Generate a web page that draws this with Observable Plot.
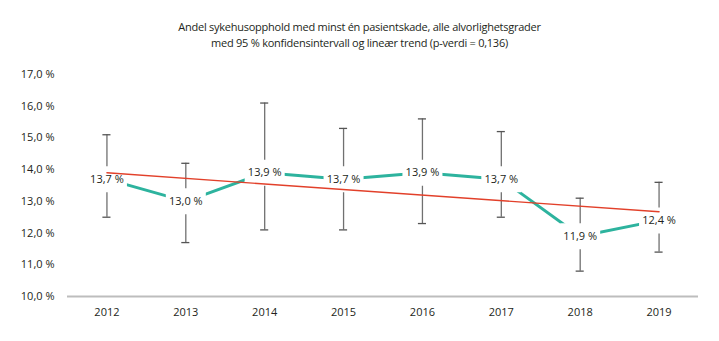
<!DOCTYPE html>
<html>
<head>
<meta charset="utf-8">
<script src="https://cdn.jsdelivr.net/npm/d3@7"></script>
<script src="https://cdn.jsdelivr.net/npm/@observablehq/plot@0.6"></script>
<style>
  html, body { margin: 0; padding: 0; background: #fff; }
  #title { width: 719px; height: 60px; box-sizing: border-box; padding-top: 19px;
    text-align: center; font-family: "Open Sans", sans-serif; font-size: 11px; line-height: 16px;
    color: #231f20; letter-spacing: -0.25px; }
  #chart svg { display: block; }
</style>
</head>
<body>
<div id="title">Andel sykehusopphold med minst én pasientskade, alle alvorlighetsgrader<br>med 95 % konfidensintervall og lineær trend (p-verdi = 0,136)</div>
<div id="chart"></div>
<script>
const years = ["2012", "2013", "2014", "2015", "2016", "2017", "2018", "2019"];
const values = [13.7, 13.0, 13.9, 13.7, 13.9, 13.7, 11.9, 12.4];
const lower = [12.5, 11.7, 12.1, 12.1, 12.3, 12.5, 10.8, 11.4];
const upper = [15.1, 14.2, 16.1, 15.3, 15.6, 15.2, 13.1, 13.6];
const trendYears = ["2012", "2019"];
const trendValues = [13.9, 12.67];
const yTicks = [10, 11, 12, 13, 14, 15, 16, 17];

const data = years.map((year, i) => ({year, value: values[i], lo: lower[i], hi: upper[i]}));
const trend = trendYears.map((year, i) => ({year, value: trendValues[i]}));
const fmt = d => d.toFixed(1).replace(".", ",") + " %";

const boxSymbol = {
  draw(ctx) { ctx.rect(-20, -13, 40, 26); }
};

const chart = Plot.plot({
  width: 719,
  height: 281,
  marginTop: 14,
  marginBottom: 45,
  marginLeft: 67,
  marginRight: 21,
  style: { fontFamily: "Open Sans, sans-serif", fontSize: "11px", color: "#231f20", background: "#fff" },
  x: { type: "band", domain: years, padding: 0, round: false, label: null, tickSize: 0, tickPadding: 12 },
  y: { domain: [10, 17], ticks: yTicks, tickFormat: fmt, label: null, tickSize: 0, tickPadding: 13 },
  marks: [
    Plot.ruleY([10], { stroke: "#bdbdbd", strokeWidth: 2 }),
    Plot.ruleX(data, { x: "year", y1: "lo", y2: "hi", stroke: "#707070", strokeWidth: 1.3 }),
    Plot.tickY(data, { x: "year", y: "hi", stroke: "#555", strokeWidth: 1.3, insetLeft: 35.4, insetRight: 35.4 }),
    Plot.tickY(data, { x: "year", y: "lo", stroke: "#555", strokeWidth: 1.3, insetLeft: 35.4, insetRight: 35.4 }),
    Plot.line(data, { x: "year", y: "value", stroke: "#2db39e", strokeWidth: 3 }),
    Plot.dot(data, { x: "year", y: "value", symbol: boxSymbol, r: 5, fill: "#fff", stroke: null }),
    Plot.line(trend, { x: "year", y: "value", stroke: "#e2402a", strokeWidth: 1.4 }),
    Plot.text(data, { x: "year", y: "value", text: d => fmt(d.value), fill: "#231f20", fontSize: 11 })
  ]
});
document.getElementById("chart").appendChild(chart);
</script>
</body>
</html>
